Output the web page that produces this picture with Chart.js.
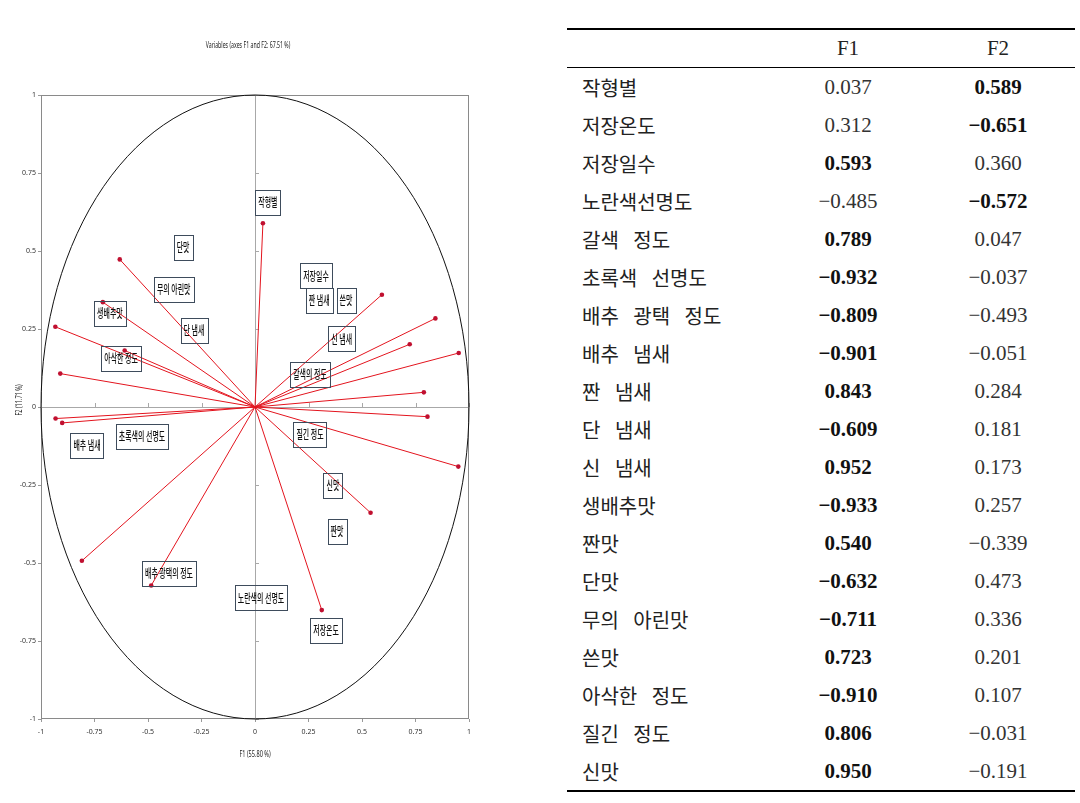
<!DOCTYPE html>
<html>
<head>
<meta charset="utf-8">
<script src="https://cdn.jsdelivr.net/npm/chart.js@4.4.0/dist/chart.umd.min.js"></script>
<style>
  body { margin: 0; background: #fff; width: 1080px; height: 803px; position: relative; overflow: hidden; }
  #chartBox { position: absolute; left: 0; top: 0; width: 490px; height: 803px; }
  #loadings {
    position: absolute; left: 567px; top: 28px; width: 508px;
    border-collapse: collapse; border-top: 2px solid #000; border-bottom: 2px solid #000;
    font-family: "Liberation Serif", "DejaVu Serif", serif; color: #333;
  }
  #loadings th { height: 35px; font-weight: normal; font-size: 21px; border-bottom: 1px solid #000; text-align: center; color: #222; }
  #loadings td { height: 38px; padding: 0; text-align: center; font-size: 21px; }
  #loadings td.name { text-align: left; padding-left: 15px; font-family: "Noto Sans CJK KR", sans-serif; font-size: 20px; word-spacing: 10px; color: #222; }
  #loadings td.strong { font-weight: bold; color: #111; }
</style>
</head>
<body>
<div id="chartBox"><canvas id="pcaChart"></canvas></div>
<table id="loadings">
  <colgroup><col style="width:208px"><col style="width:146px"><col style="width:154px"></colgroup>
  <thead><tr><th></th><th>F1</th><th>F2</th></tr></thead>
  <tbody></tbody>
</table>
<script>
// factor loadings (table)
const variables = ['작형별', '저장온도', '저장일수', '노란색선명도', '갈색 정도', '초록색 선명도', '배추 광택 정도',
  '배추 냄새', '짠 냄새', '단 냄새', '신 냄새', '생배추맛', '짠맛', '단맛', '무의 아린맛', '쓴맛', '아삭한 정도', '질긴 정도', '신맛'];
const f1 = [0.037, 0.312, 0.593, -0.485, 0.789, -0.932, -0.809, -0.901, 0.843, -0.609, 0.952, -0.933, 0.540, -0.632, -0.711, 0.723, -0.910, 0.806, 0.950];
const f2 = [0.589, -0.651, 0.360, -0.572, 0.047, -0.037, -0.493, -0.051, 0.284, 0.181, 0.173, 0.257, -0.339, 0.473, 0.336, 0.201, 0.107, -0.031, -0.191];

// labels as written inside the plot
const plotLabels = ['작형별', '저장온도', '저장일수', '노란색의 선명도', '갈색의 정도', '초록색의 선명도', '배추 광택의 정도',
  '배추 냄새', '짠 냄새', '단 냄새', '신 냄새', '생배추맛', '짠맛', '단맛', '무의 아린맛', '쓴맛', '아삭한 정도', '질긴 정도', '신맛'];
// where each label box sits (axis units)
const labelX = [0.06, 0.332, 0.285, 0.028, 0.257, -0.528, -0.402, -0.785, 0.30, -0.285, 0.405, -0.678, 0.383, -0.336, -0.38, 0.425, -0.626, 0.257, 0.364];
const labelY = [0.657, -0.715, 0.42, -0.612, 0.103, -0.093, -0.535, -0.122, 0.34, 0.244, 0.218, 0.301, -0.40, 0.51, 0.378, 0.34, 0.157, -0.087, -0.25];

const axisTicks = [-1, -0.75, -0.5, -0.25, 0, 0.25, 0.5, 0.75, 1];
const chartTitle = 'Variables (axes F1 and F2: 67.51 %)';
const xTitle = 'F1 (55.80 %)';
const yTitle = 'F2 (11.71 %)';

// table
const tbody = document.querySelector('#loadings tbody');
const fmt = v => v.toFixed(3).replace('-', '−');
variables.forEach((name, i) => {
  const tr = document.createElement('tr');
  tr.innerHTML = `<td class="name">${name}</td>` +
    `<td class="${Math.abs(f1[i]) >= 0.5 ? 'strong' : ''}">${fmt(f1[i])}</td>` +
    `<td class="${Math.abs(f2[i]) >= 0.5 ? 'strong' : ''}">${fmt(f2[i])}</td>`;
  tbody.appendChild(tr);
});

function squeezedText(ctx, text, cx, cy, font, sx, rot = 0) {
  ctx.save();
  ctx.font = font;
  ctx.translate(cx, cy);
  if (rot) ctx.rotate(rot);
  ctx.scale(sx, 1);
  ctx.textAlign = 'center';
  ctx.textBaseline = 'middle';
  ctx.fillText(text, 0, 0);
  ctx.restore();
}

const pcaDecor = {
  id: 'pcaDecor',
  beforeDatasetsDraw(chart) {
    const { ctx, chartArea: a, scales: { x, y } } = chart;
    const x0 = x.getPixelForValue(0), y0 = y.getPixelForValue(0);
    ctx.save();
    ctx.lineWidth = 1;
    ctx.strokeStyle = '#8a8a8a';
    ctx.strokeRect(a.left + 0.5, a.top + 0.5, a.width - 1, a.height - 1);
    ctx.strokeStyle = '#a8a8a8';
    ctx.beginPath();
    ctx.moveTo(a.left, Math.round(y0) + 0.5); ctx.lineTo(a.right, Math.round(y0) + 0.5);
    ctx.moveTo(Math.round(x0) + 0.5, a.top); ctx.lineTo(Math.round(x0) + 0.5, a.bottom);
    axisTicks.forEach(v => {
      const px = Math.round(x.getPixelForValue(v)) + 0.5;
      ctx.moveTo(px, y0); ctx.lineTo(px, y0 - 4);
      const py = Math.round(y.getPixelForValue(v)) + 0.5;
      ctx.moveTo(x0, py); ctx.lineTo(x0 + 4, py);
    });
    ctx.stroke();
    ctx.beginPath();
    ctx.ellipse(x0, y0, x.getPixelForValue(1) - x0, y0 - y.getPixelForValue(1), 0, 0, Math.PI * 2);
    ctx.strokeStyle = '#111';
    ctx.stroke();
    ctx.restore();
  },
  afterDatasetsDraw(chart) {
    const { ctx, scales: { x, y } } = chart;
    const font = '500 12px "Noto Sans CJK KR", sans-serif';
    const sx = 0.58;
    ctx.save();
    plotLabels.forEach((t, i) => {
      const cx = x.getPixelForValue(labelX[i]), cy = y.getPixelForValue(labelY[i]);
      ctx.font = font;
      const w = ctx.measureText(t).width * sx + 6;
      ctx.strokeStyle = '#3e4c5c';
      ctx.lineWidth = 1;
      ctx.strokeRect(Math.round(cx - w / 2) + 0.5, Math.round(cy - 12.5) + 0.5, Math.round(w), 25);
      ctx.fillStyle = '#111';
      squeezedText(ctx, t, cx, cy, font, sx);
    });
    ctx.restore();
  },
  afterDraw(chart) {
    const { ctx, chartArea: a } = chart;
    ctx.save();
    ctx.fillStyle = '#222';
    squeezedText(ctx, chartTitle, (a.left + a.right) / 2 - 7, 45, '9px "Noto Sans", sans-serif', 0.58);
    squeezedText(ctx, xTitle, (a.left + a.right) / 2, 754, '9px "Noto Sans", sans-serif', 0.62);
    squeezedText(ctx, yTitle, 19, 400, '9px "Noto Sans", sans-serif', 0.62, -Math.PI / 2);
    ctx.restore();
  }
};

new Chart(document.getElementById('pcaChart'), {
  type: 'scatter',
  data: {
    datasets: variables.map((v, i) => ({
      label: v,
      data: [{ x: 0, y: 0 }, { x: f1[i], y: f2[i] }],
      showLine: true,
      borderColor: '#e3141e',
      borderWidth: 1,
      pointRadius: [0, 2.3],
      pointBackgroundColor: '#c01030',
      pointBorderColor: '#c01030',
      pointBorderWidth: 0,
    })),
  },
  options: {
    responsive: true, maintainAspectRatio: false, animation: false,
    layout: { padding: { left: 0, right: 21, top: 95, bottom: 44 } },
    plugins: { legend: { display: false }, tooltip: { enabled: false } },
    scales: {
      x: {
        min: -1, max: 1,
        afterFit: s => { s.height = 40; },
        afterBuildTicks: s => { s.ticks = axisTicks.map(v => ({ value: v })); },
        grid: { display: true, drawOnChartArea: false, tickLength: 3, color: '#999' },
        border: { display: false },
        ticks: { padding: 6, color: '#333', font: { size: 7, family: 'Noto Sans' }, maxRotation: 0, callback: v => String(v) },
      },
      y: {
        min: -1, max: 1,
        afterFit: s => { s.width = 41; },
        afterBuildTicks: s => { s.ticks = axisTicks.map(v => ({ value: v })); },
        grid: { display: true, drawOnChartArea: false, tickLength: 3, color: '#999' },
        border: { display: false },
        ticks: { padding: 2, color: '#333', font: { size: 7, family: 'Noto Sans' }, callback: v => String(v) },
      },
    },
  },
  plugins: [pcaDecor],
});
</script>
</body>
</html>
